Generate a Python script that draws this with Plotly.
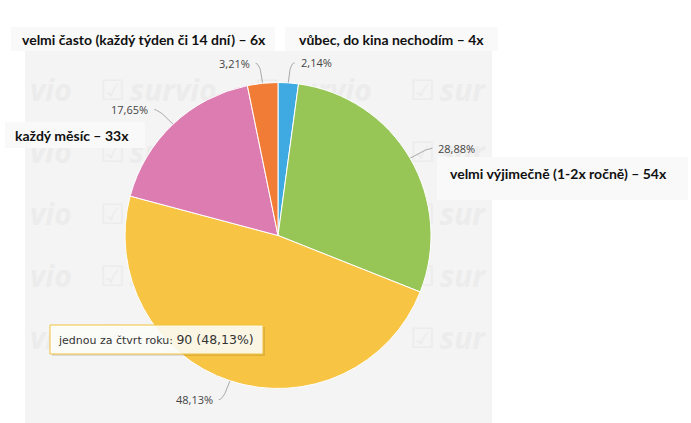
import math
import plotly.graph_objects as go

# ---------------- data ----------------
categories = [
    "vůbec, do kina nechodím",
    "velmi výjimečně (1-2x ročně)",
    "jednou za čtvrt roku",
    "každý měsíc",
    "velmi často (každý týden či 14 dní)",
]
counts = [4, 54, 90, 33, 6]
colors = ["#3fa9e1", "#97c657", "#f8c443", "#dd7cb1", "#f07c36"]
tooltip_index = 2

# ---------------- layout constants (pixels) ----------------
W, H = 691, 423
CX, CY, R = 278, 235.5, 153
BG_X0, BG_X1, BG_Y0 = 25, 492, 51


def px(x):
    return x / W


def py(y):
    return 1 - y / H


total = sum(counts)
pcts = [c / total * 100 for c in counts]


def fmt_pct(p):
    return f"{p:.2f}".replace(".", ",") + "%"


fig = go.Figure()

# ---------------- watermark (under the pie) ----------------
wm_rows = [93, 155, 217, 279, 341]
wm_cols = [100, 255, 410]
chk_x, chk_y, wm_x, wm_y, wm_t = [], [], [], [], []
for r in wm_rows:
    # tail of a tile cut by the left edge
    wm_x.append(30)
    wm_y.append(r)
    wm_t.append("vio")
    for c in wm_cols:
        chk_x.append(c)
        chk_y.append(r)
        wm_x.append(c + 30)
        wm_y.append(r)
        wm_t.append("sur" if c + 130 > BG_X1 else "survio")
fig.add_trace(go.Scatter(
    x=chk_x, y=chk_y, mode="text", text=["☑"] * len(chk_x),
    textposition="middle right",
    textfont=dict(family="DejaVu Sans", size=28, color="#ececec"),
    hoverinfo="skip", showlegend=False))
fig.add_trace(go.Scatter(
    x=wm_x, y=wm_y, mode="text", text=wm_t,
    textposition="middle right",
    textfont=dict(family="Open Sans", size=30, color="#ececec",
                  weight="bold", style="italic"),
    hoverinfo="skip", showlegend=False))

# ---------------- connectors & percent labels ----------------
cum = 0
annotations = []
for i, c in enumerate(counts):
    mid = (cum + c / 2) / total * 2 * math.pi
    cum += c
    s, co = math.sin(mid), math.cos(mid)
    x0, y0 = CX + R * s, CY - R * co
    x1, y1 = CX + (R + 20) * s, CY - (R + 20) * co
    side = 1 if s >= 0 else -1
    x2, y2 = x1 + 5 * side, y1
    xs, ys = [], []
    for k in range(13):
        t = k / 12
        xs.append((1 - t) ** 2 * x0 + 2 * (1 - t) * t * x1 + t * t * x2)
        ys.append((1 - t) ** 2 * y0 + 2 * (1 - t) * t * y1 + t * t * y2)
    fig.add_trace(go.Scatter(
        x=xs, y=ys, mode="lines", line=dict(color="#a9a9a9", width=1),
        hoverinfo="skip", showlegend=False))
    annotations.append(dict(
        x=x2 + 4 * side, y=y2, xref="x", yref="y",
        text=fmt_pct(pcts[i]), showarrow=False,
        xanchor="left" if side > 0 else "right", yanchor="middle",
        font=dict(family="Open Sans", size=11, color="#444444")))

# ---------------- pie ----------------
fig.add_trace(go.Pie(
    values=counts, labels=categories, sort=False, direction="clockwise",
    rotation=0, textinfo="none", hoverinfo="skip", showlegend=False,
    marker=dict(colors=colors, line=dict(color="#ffffff", width=1)),
    domain=dict(x=[px(CX - R), px(CX + R)], y=[py(CY + R), py(CY - R)]),
))

# ---------------- bold category boxes ----------------
shapes = []
boxes = {
    4: (11, 275, 27, 51, 20, 39.5),
    0: (285, 498, 27, 51, 297, 39.5),
    3: (5, 145, 122, 148, 13, 135),
    1: (437, 688, 157, 200, 448, 173),
}
for idx, (bx0, bx1, by0, by1, tx, ty) in boxes.items():
    shapes.append(dict(type="rect", xref="paper", yref="paper", layer="above",
                       x0=px(bx0), x1=px(bx1), y0=py(by1), y1=py(by0),
                       fillcolor="#f9f9f9", line=dict(width=0)))
    annotations.append(dict(
        x=px(tx), y=py(ty), xref="paper", yref="paper",
        text=f"<b>{categories[idx]} – {counts[idx]}x</b>", showarrow=False,
        xanchor="left", yanchor="middle",
        font=dict(family="Lato", size=14, color="#111111")))

# ---------------- tooltip ----------------
tx0, tx1, ty0, ty1 = 50, 263, 325, 354
shapes.append(dict(type="rect", xref="paper", yref="paper", layer="above",
                   x0=px(tx0 + 2), x1=px(tx1 + 2), y0=py(ty1 + 2), y1=py(ty0 + 2),
                   fillcolor="rgba(0,0,0,0.10)", line=dict(width=0)))
shapes.append(dict(type="rect", xref="paper", yref="paper", layer="above",
                   x0=px(tx0), x1=px(tx1), y0=py(ty1), y1=py(ty0),
                   fillcolor="rgba(255,255,250,0.88)",
                   line=dict(color="#f0c23c", width=1)))
annotations.append(dict(
    x=px(tx0 + 6), y=py((ty0 + ty1) / 2), xref="paper", yref="paper",
    text=(f"{categories[tooltip_index]}: "
          f"<span style='font-size:12.5px'>{counts[tooltip_index]} "
          f"({fmt_pct(pcts[tooltip_index])})</span>"),
    showarrow=False, xanchor="left", yanchor="middle",
    font=dict(family="DejaVu Sans", size=11, color="#333333")))

fig.update_layout(
    width=W, height=H,
    margin=dict(l=0, r=0, t=0, b=0),
    paper_bgcolor="#ffffff",
    plot_bgcolor="#f4f4f4",
    xaxis=dict(domain=[px(BG_X0), px(BG_X1)], range=[BG_X0, BG_X1],
               visible=False, fixedrange=True),
    yaxis=dict(domain=[0, py(BG_Y0)], range=[H, BG_Y0],
               visible=False, fixedrange=True),
    shapes=shapes,
    annotations=annotations,
)

fig.write_html("out.html", config={"displayModeBar": False},
               post_script="document.body.style.margin='0';")
